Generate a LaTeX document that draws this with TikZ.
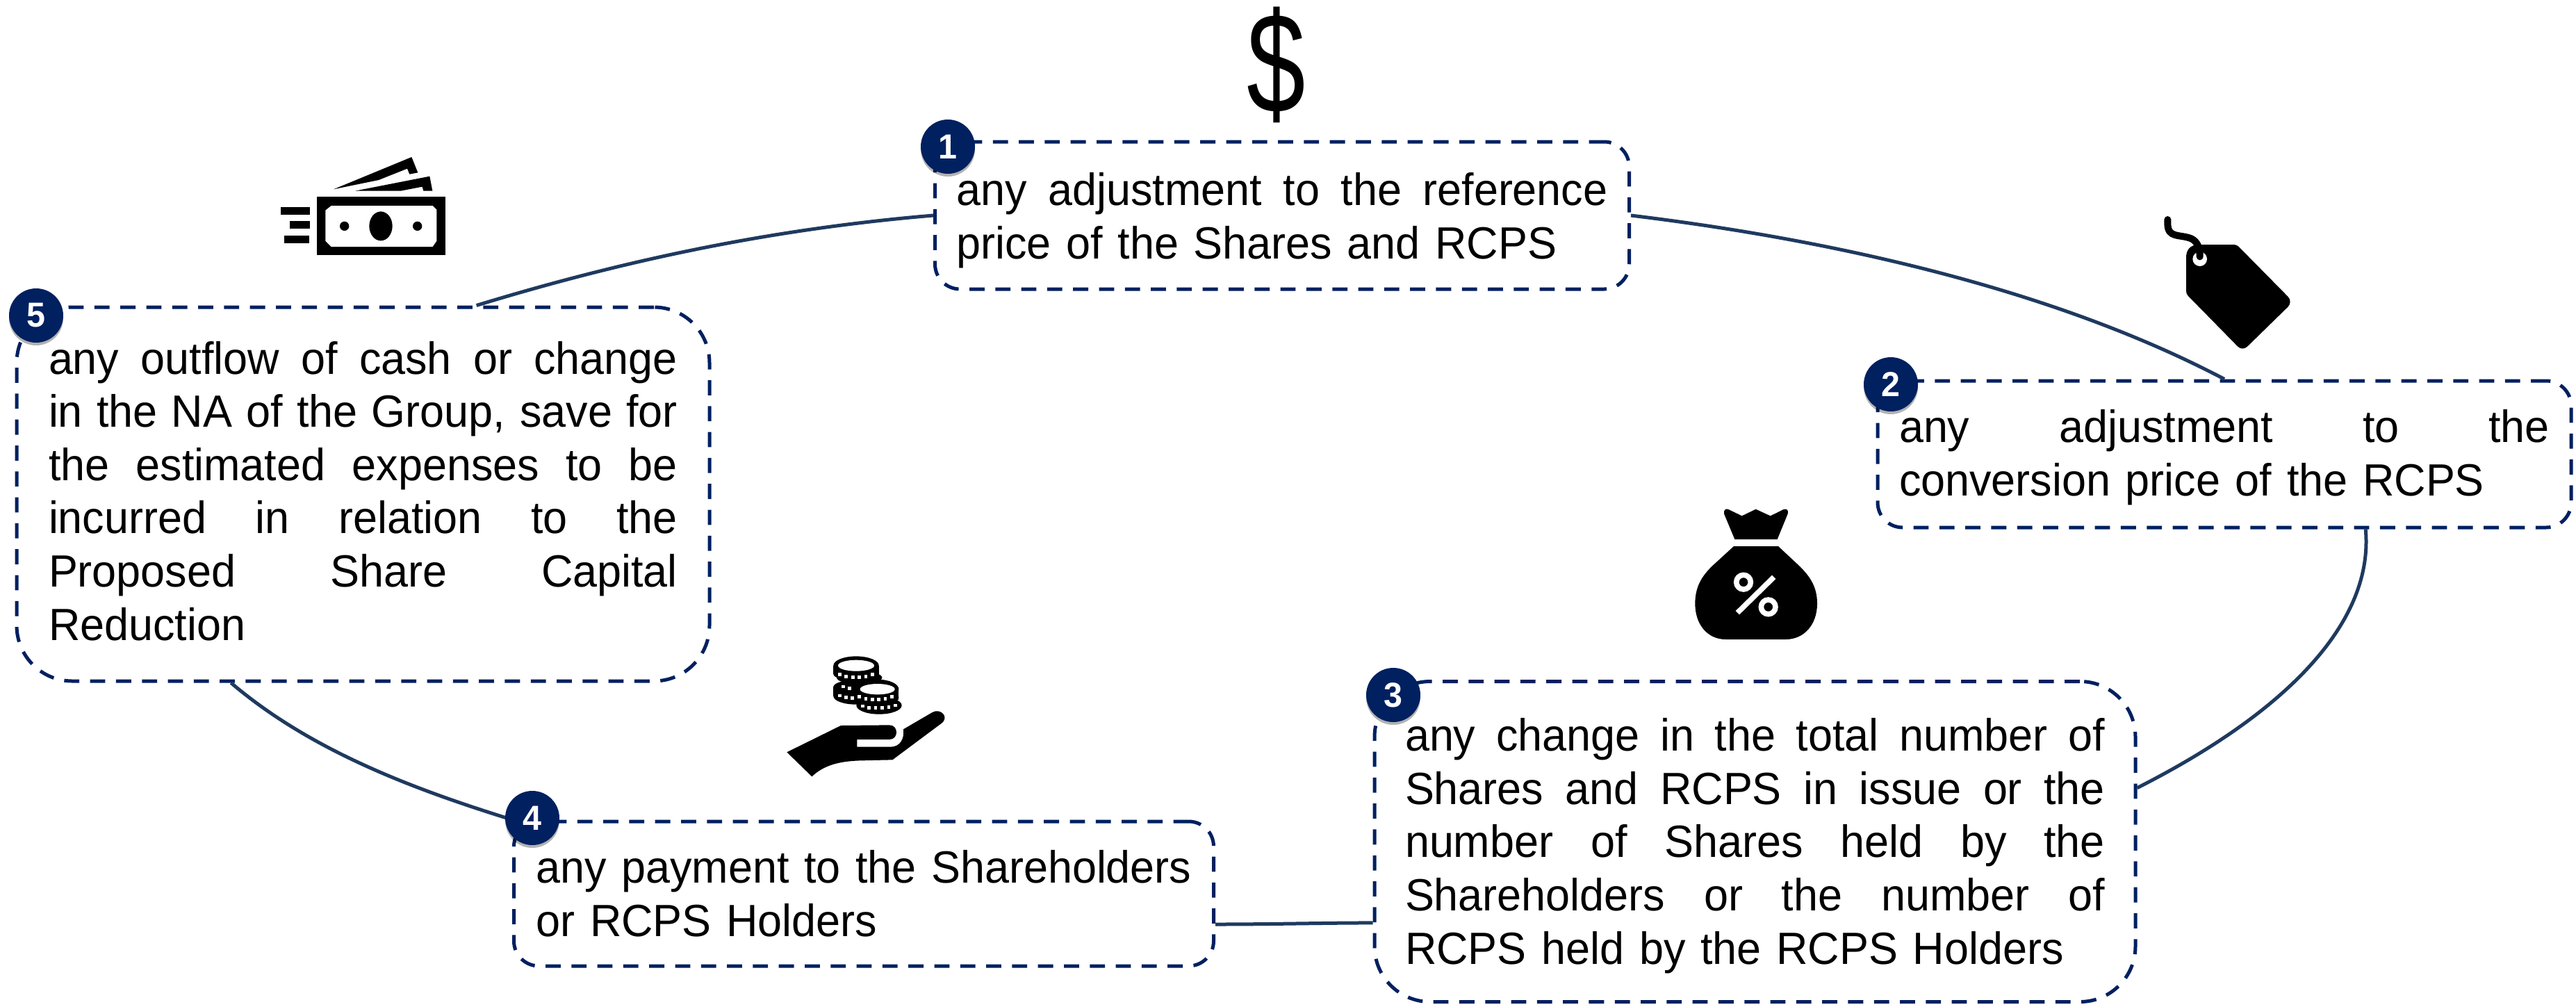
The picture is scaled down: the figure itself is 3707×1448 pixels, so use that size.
\documentclass[tikz,border=0pt]{standalone}
\usepackage{fontspec}
\usepackage{graphicx}
\setmainfont[FakeStretch=0.968]{Liberation Sans}
\usetikzlibrary{shadows,calc}
\definecolor{navy}{HTML}{002060}
\definecolor{linkc}{HTML}{1F3A5F}
\newcommand\jline[2]{\leavevmode\hbox to \dimexpr#1pt/2\relax{\spaceskip=.25em plus 1fil minus .05em\relax #2}}
\tikzset{
  dashbox/.style n args={2}{draw=navy,line width=2.5pt,dash pattern=on 10.9pt off 7.75pt,rounded corners=#2,
    align=left,text width=#1*0.5pt,inner ysep=0pt,anchor=center,
    font=\fontsize{32.5}{38.3}\selectfont,text=black},
  badge/.style={circle,fill=navy,text=white,minimum size=39pt,inner sep=0pt,
    font=\fontsize{25}{25}\selectfont\bfseries,
    drop shadow={shadow xshift=0pt,shadow yshift=-2pt,opacity=.3,fill=black}},
  link/.style={draw=linkc,line width=2.5pt},
  icon/.style={fill=black,draw=none}
}
\begin{document}
\begin{tikzpicture}[x=0.5pt,y=-0.5pt]
\useasboundingbox (0,0) rectangle (3707,1448);
% boxes
\node[dashbox={937}{18pt},inner xsep=15.5pt,minimum height=106pt] (b1) at (1845,310)
  {\jline{937}{\rule{0pt}{30.6pt}any adjustment to the reference}\\price of the Shares and RCPS};
\node[dashbox={936}{18pt},inner xsep=15.5pt,minimum height=105.5pt] (b2) at (3201,653.5)
  {\jline{936}{\rule{0pt}{28.4pt}any adjustment to the}\\conversion price of the RCPS};
\node[dashbox={1007}{40pt},inner xsep=22pt,minimum height=230.5pt] (b3) at (2525.5,1211)
  {\jline{1007}{\rule{0pt}{29.6pt}any change in the total number of}\\\jline{1007}{Shares and RCPS in issue or the}\\\jline{1007}{number of Shares held by the}\\\jline{1007}{Shareholders or the number of}\\RCPS held by the RCPS Holders};
\node[dashbox={943}{18pt},inner xsep=16pt,minimum height=104pt] (b4) at (1243,1286)
  {\jline{943}{any payment to the Shareholders}\\or RCPS Holders};
\node[dashbox={905}{40pt},inner xsep=23pt,minimum height=269pt] (b5) at (522.5,711)
  {\jline{905}{any outflow of cash or change}\\\jline{905}{in the NA of the Group, save for}\\\jline{905}{the estimated expenses to be}\\\jline{905}{incurred in relation to the}\\\jline{905}{Proposed Share Capital}\\Reduction\rule[-5pt]{0pt}{5pt}};
% connectors
\draw[link] (b1.east) .. controls (2627,344) and (2949,413) .. (b2.north);
\draw[link] (b2.-28.4) .. controls (3416,890) and (3300,1020) .. (b3.8.4);
\draw[link] (b3.192) .. controls (1900,1328) and (1830,1330) .. ($(b4.east)+(0,44)$);
\draw[link] (b4.north west) .. controls (597,1136) and (448,1081) .. (b5.235.3);
\draw[link] (b5.59) .. controls (903,373) and (1116,329) .. (b1.west);
% badges
\node[badge] (n1) at (1364,211) {1};
\node[badge] (n2) at (2721,553) {2};
\node[badge] (n3) at (2005,1000) {3};
\node[badge] (n4) at (766,1177) {4};
\node[badge] (n5) at (52,454) {5};
% dollar
\node[inner sep=0pt,font=\fontsize{103}{103}\selectfont] (dollar) at (1837,93) {\scalebox{.76}[1]{\$}};
% money
\begin{scope}[shift={(350,200)},x=0.16667pt,y=-0.16667pt]
\fill[icon] (317,250) rectangle (872,502);
\fill[white] (380,288) -- (818,288) -- (835,305) -- (835,440) -- (818,465) -- (380,465) -- (355,440) -- (355,308) -- cycle;
\fill[icon] (594,376) ellipse [x radius=50,y radius=63];
\fill[icon] (437,376) circle [radius=20];
\fill[icon] (752,376) circle [radius=20];
\fill[icon] (162,294) rectangle (288,327);
\fill[icon] (201,354) rectangle (288,387);
\fill[icon] (177,417) rectangle (285,450);
\fill[icon] (390,217) -- (727,78) -- (754,145) -- (718,152) -- (708,128) -- (585,177) -- cycle;
\fill[icon] (483,224) -- (805,161) -- (817,224) -- (778,224) -- (773,206) -- (680,224) -- cycle;
\end{scope}
% tag
\begin{scope}[shift={(3050,280)},x=0.16667pt,y=-0.16667pt]
\fill[icon] (288,270) .. controls (288,240) and (305,217) .. (340,216) -- (490,216)
  .. controls (503,216) and (510,220) .. (518,228) -- (727,440)
  .. controls (740,453) and (740,472) .. (727,485) -- (553,655)
  .. controls (540,668) and (522,668) .. (510,655) -- (296,437)
  .. controls (290,431) and (288,425) .. (288,415) -- cycle;
\fill[white] (347,278) circle [radius=31];
\draw[black,line width=5pt,line cap=round] (208,108) -- (208,125) .. controls (208,190) and (260,170) .. (310,190) .. controls (340,205) and (347,235) .. (347,268);
\end{scope}
% bag
\begin{scope}[shift={(2400,700)},x=0.16667pt,y=-0.16667pt]
\fill[icon] (243,118) .. controls (240,100) and (252,94) .. (262,99) -- (320,127) -- (380,98) -- (443,127) -- (500,99) .. controls (512,94) and (523,102) .. (518,118) -- (473,228) -- (289,228) -- cycle;
\fill[icon] (285,258) -- (477,258) -- (570,345) .. controls (610,385) and (645,430) .. (645,505)
  .. controls (645,600) and (585,660) .. (510,660) -- (250,660)
  .. controls (175,660) and (118,600) .. (118,505) .. controls (118,430) and (150,385) .. (190,345) -- cycle;
\draw[white,line width=3.8pt] (327,413) circle [radius=31];
\draw[white,line width=3.8pt] (434,520) circle [radius=31];
\draw[white,line width=3.8pt] (458,391) -- (301,545);
\end{scope}
% hand and coins
\begin{scope}[shift={(1100,920)},x=0.16667pt,y=-0.16667pt]
\fill[icon] (97,487) -- (330,372) -- (540,370) .. controls (580,370) and (580,432) .. (540,432) -- (400,432) -- (400,464) -- (545,464)
  .. controls (585,464) and (605,430) .. (600,388) -- (725,315) .. controls (760,295) and (800,335) .. (765,362) -- (553,520) -- (420,523)
  .. controls (320,525) and (255,545) .. (205,592) -- cycle;
% left stack
\fill[icon] (298,113) rectangle (494,150);
\fill[icon] (396,113) ellipse [x radius=98,y radius=40];
\fill[icon] (396,150) ellipse [x radius=98,y radius=28];
\fill[icon] (410,165) ellipse [x radius=98,y radius=28];
\fill[icon] (298,205) rectangle (494,245);
\fill[icon] (396,205) ellipse [x radius=98,y radius=30];
\fill[icon] (396,245) ellipse [x radius=98,y radius=36];
\fill[white] (396,113) ellipse [x radius=78,y radius=24];
\foreach \px/\py in {325/152,353/160,382/163,410/163,438/160,466/152,340/204,368/212,325/243,353/250,380/253}
  \fill[white] (\px-7,\py-7) rectangle (\px+7,\py+7);
% right stack
\fill[icon] (396,215) rectangle (580,260);
\fill[icon] (488,215) ellipse [x radius=92,y radius=42];
\fill[icon] (488,250) ellipse [x radius=92,y radius=36];
\fill[icon] (495,285) ellipse [x radius=98,y radius=38];
\fill[white] (488,215) ellipse [x radius=75,y radius=23];
\foreach \px/\py in {410/248,438/257,466/260,494/260,522/257,550/248,425/288,452/295,480/296,508/296,537/293,565/285}
  \fill[white] (\px-7,\py-7) rectangle (\px+7,\py+7);
\end{scope}
\end{tikzpicture}
\end{document}
